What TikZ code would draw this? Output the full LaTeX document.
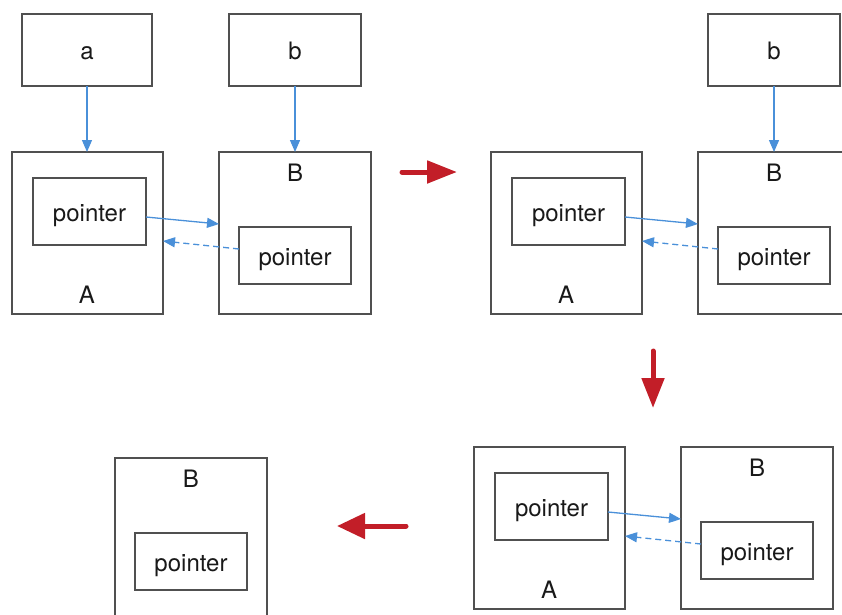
\documentclass[tikz,border=0pt]{standalone}
\usepackage{fontspec}
\setmainfont{TeX Gyre Heros}
\usetikzlibrary{arrows.meta}
\definecolor{boxgray}{RGB}{80,80,80}
\definecolor{ptrblue}{RGB}{74,144,217}
\definecolor{stepred}{RGB}{194,30,40}
\tikzset{
  box/.style={draw=boxgray, line width=1.4pt, inner sep=0pt, outer sep=0pt, fill=white},
  txt/.style={inner sep=0pt, anchor=base, font=\fontsize{24}{28}\selectfont, text=black!90},
  link/.style={draw=ptrblue, line width=1.3pt, -{Triangle[length=12pt,width=10pt]}},
  backlink/.style={link, dash pattern=on 6pt off 4pt},
  stepar/.style={draw=stepred, line width=5pt, line cap=round, -{Triangle[length=30pt,width=22pt]}},
}
\begin{document}
\begin{tikzpicture}[x=1pt,y=-1pt]
\path[use as bounding box, clip] (0,0) rectangle (842,614);
% ---------- panel 1 (top left)
\node[box, minimum width=130pt, minimum height=72pt] (a1) at (87,50) {};
\node[txt] (ta1) at ([yshift=-9.5pt]a1.center) {a};
\node[box, minimum width=132pt, minimum height=72pt] (b1) at (295,50) {};
\node[txt] (tb1) at ([yshift=-9.5pt]b1.center) {b};
\node[box, minimum width=151pt, minimum height=162pt] (A1) at (87.5,233) {};
\node[box, minimum width=113pt, minimum height=67pt] (pA1) at (89.5,211.5) {};
\node[txt] (tpA1) at ([yshift=-9.5pt]pA1.center) {pointer};
\node[txt] (lA1) at (87,303.5) {A};
\node[box, minimum width=152pt, minimum height=162pt] (B1) at (295,233) {};
\node[box, minimum width=112pt, minimum height=57pt] (pB1) at (295,255.5) {};
\node[txt] (tpB1) at ([yshift=-9.5pt]pB1.center) {pointer};
\node[txt] (lB1) at (295,181.5) {B};
\draw[link] (a1.south) -- (a1.south |- A1.north);
\draw[link] (b1.south) -- (b1.south |- B1.north);
\draw[link] ([yshift=-5.5pt]pA1.east) -- ([yshift=9pt]B1.west);
\draw[backlink] ([yshift=6.5pt]pB1.west) -- ([yshift=-8pt]A1.east);
% ---------- panel 2 (top right)
\begin{scope}[shift={(479,0)}]
\node[box, minimum width=132pt, minimum height=72pt] (b2) at (295,50) {};
\node[txt] (tb2) at ([yshift=-9.5pt]b2.center) {b};
\node[box, minimum width=151pt, minimum height=162pt] (A2) at (87.5,233) {};
\node[box, minimum width=113pt, minimum height=67pt] (pA2) at (89.5,211.5) {};
\node[txt] (tpA2) at ([yshift=-9.5pt]pA2.center) {pointer};
\node[txt] (lA2) at (87,303.5) {A};
\node[box, minimum width=152pt, minimum height=162pt] (B2) at (295,233) {};
\node[box, minimum width=112pt, minimum height=57pt] (pB2) at (295,255.5) {};
\node[txt] (tpB2) at ([yshift=-9.5pt]pB2.center) {pointer};
\node[txt] (lB2) at (295,181.5) {B};
\end{scope}
\draw[link] (b2.south) -- (b2.south |- B2.north);
\draw[link] ([yshift=-5.5pt]pA2.east) -- ([yshift=9pt]B2.west);
\draw[backlink] ([yshift=6.5pt]pB2.west) -- ([yshift=-8pt]A2.east);
% ---------- panel 3 (bottom right)
\begin{scope}[shift={(462,295)}]
\node[box, minimum width=151pt, minimum height=162pt] (A3) at (87.5,233) {};
\node[box, minimum width=113pt, minimum height=67pt] (pA3) at (89.5,211.5) {};
\node[txt] (tpA3) at ([yshift=-9.5pt]pA3.center) {pointer};
\node[txt] (lA3) at (87,303.5) {A};
\node[box, minimum width=152pt, minimum height=162pt] (B3) at (295,233) {};
\node[box, minimum width=112pt, minimum height=57pt] (pB3) at (295,255.5) {};
\node[txt] (tpB3) at ([yshift=-9.5pt]pB3.center) {pointer};
\node[txt] (lB3) at (295,181.5) {B};
\end{scope}
\draw[link] ([yshift=-5.5pt]pA3.east) -- ([yshift=9pt]B3.west);
\draw[backlink] ([yshift=6.5pt]pB3.west) -- ([yshift=-8pt]A3.east);
% ---------- panel 4 (bottom left)
\begin{scope}[shift={(-104,306)}]
\node[box, minimum width=152pt, minimum height=162pt] (B4) at (295,233) {};
\node[box, minimum width=112pt, minimum height=57pt] (pB4) at (295,255.5) {};
\node[txt] (tpB4) at ([yshift=-9.5pt]pB4.center) {pointer};
\node[txt] (lB4) at (295,181.5) {B};
\end{scope}
% ---------- step arrows
\coordinate (s1a) at (402,172);
\coordinate (s1b) at (457,172);
\coordinate (s2a) at (653,351);
\coordinate (s2b) at (653,408);
\coordinate (s3a) at (406,526);
\coordinate (s3b) at (337,526);
\draw[stepar] (s1a) -- (s1b);
\draw[stepar] (s2a) -- (s2b);
\draw[stepar, -{Triangle[length=28pt,width=25pt]}] (s3a) -- (s3b);
\end{tikzpicture}
\end{document}
